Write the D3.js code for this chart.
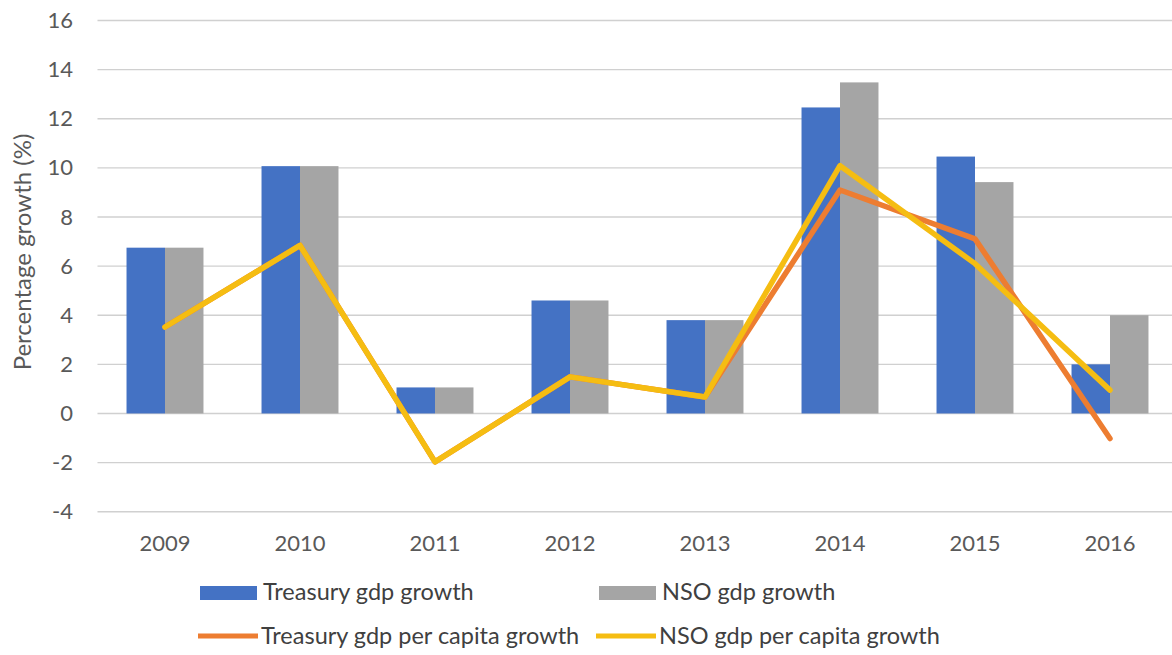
<!DOCTYPE html>
<html>
<head>
<meta charset="utf-8">
<script src="https://cdn.jsdelivr.net/npm/d3@7"></script>
<style>
html,body{margin:0;padding:0;background:#fff;overflow:hidden;}
svg{display:block;font-family:Lato,"Open Sans",sans-serif;}
</style>
</head>
<body>
<svg id="chart" width="1172" height="655"></svg>
<script>
const years = ["2009","2010","2011","2012","2013","2014","2015","2016"];
const treasuryGdp = [6.75, 10.07, 1.06, 4.6, 3.8, 12.46, 10.46, 2.0];
const nsoGdp = [6.75, 10.07, 1.06, 4.6, 3.8, 13.48, 9.42, 4.0];
const treasuryPerCapita = [3.52, 6.84, -1.97, 1.49, 0.67, 9.1, 7.11, -1.02];
const nsoPerCapita = [3.52, 6.84, -1.97, 1.49, 0.67, 10.09, 6.1, 0.95];
const yTicks = [-4, -2, 0, 2, 4, 6, 8, 10, 12, 14, 16];
const legendLabels = ["Treasury gdp growth", "NSO gdp growth", "Treasury gdp per capita growth", "NSO gdp per capita growth"];

const colors = {blue:"#4472C4", grey:"#A5A5A5", orange:"#ED7D31", yellow:"#F5BD12"};

const svg = d3.select("#chart");
const pLeft = 97.5, pRight = 1177.5, pTop = 20.5, pBottom = 511.7;

const x0 = d3.scaleBand().domain(years).range([pLeft, pRight]).paddingInner(0.43).paddingOuter(0.215);
const x1 = d3.scaleBand().domain(["t","n"]).range([0, x0.bandwidth()]);
const y = d3.scaleLinear().domain([-4, 16]).range([pBottom, pTop]);

// gridlines
svg.append("g").selectAll("line").data(yTicks).join("line")
  .attr("x1", pLeft).attr("x2", pRight)
  .attr("y1", d => y(d)).attr("y2", d => y(d))
  .attr("stroke", "#d0d0d0").attr("stroke-width", 1.4);

// y tick labels
const yAxis = d3.axisLeft(y).tickValues(yTicks).tickSize(0).tickPadding(0).tickFormat(d => String(d));
const ya = svg.append("g").attr("transform", `translate(73,0)`).call(yAxis);
ya.select(".domain").remove();
ya.selectAll("text").attr("font-size", 22).attr("fill", "#595959").attr("font-family", "Lato,'Open Sans',sans-serif");

// x labels
const xAxis = d3.axisBottom(x0).tickSize(0).tickPadding(0);
const xa = svg.append("g").attr("transform", `translate(0,535)`).call(xAxis);
xa.select(".domain").remove();
xa.selectAll("text").attr("font-size", 22).attr("fill", "#595959").attr("font-family", "Lato,'Open Sans',sans-serif");

// bars
const groups = svg.append("g").selectAll("g").data(years).join("g")
  .attr("transform", d => `translate(${x0(d)},0)`);
groups.append("rect")
  .attr("x", x1("t")).attr("width", x1.bandwidth())
  .attr("y", (d,i) => y(Math.max(0, treasuryGdp[i])))
  .attr("height", (d,i) => Math.abs(y(treasuryGdp[i]) - y(0)))
  .attr("fill", colors.blue);
groups.append("rect")
  .attr("x", x1("n")).attr("width", x1.bandwidth())
  .attr("y", (d,i) => y(Math.max(0, nsoGdp[i])))
  .attr("height", (d,i) => Math.abs(y(nsoGdp[i]) - y(0)))
  .attr("fill", colors.grey);

// lines
const cx = d => x0(d) + x0.bandwidth() / 2;
const line = d3.line().x((v,i) => cx(years[i])).y(v => y(v));
svg.append("path").datum(treasuryPerCapita).attr("d", line)
  .attr("fill", "none").attr("stroke", colors.orange).attr("stroke-width", 5.5)
  .attr("stroke-linejoin", "round").attr("stroke-linecap", "round");
svg.append("path").datum(nsoPerCapita).attr("d", line)
  .attr("fill", "none").attr("stroke", colors.yellow).attr("stroke-width", 5.5)
  .attr("stroke-linejoin", "round").attr("stroke-linecap", "round");

// y axis title
svg.append("text")
  .attr("transform", `translate(31,252) rotate(-90)`)
  .attr("text-anchor", "middle")
  .attr("font-size", 24).attr("fill", "#595959")
  .text("Percentage growth (%)");

// legend
const legend = svg.append("g");
const items = [
  {label: legendLabels[0], color: colors.blue, type: "rect", x: 200, y: 592},
  {label: legendLabels[1], color: colors.grey, type: "rect", x: 599, y: 592},
  {label: legendLabels[2], color: colors.orange, type: "line", x: 198, y: 636},
  {label: legendLabels[3], color: colors.yellow, type: "line", x: 596, y: 636}
];
items.forEach(it => {
  if (it.type === "rect") {
    legend.append("rect").attr("x", it.x).attr("y", it.y - 6).attr("width", 57).attr("height", 14).attr("fill", it.color);
  } else {
    legend.append("line").attr("x1", it.x).attr("x2", it.x + 60).attr("y1", it.y).attr("y2", it.y)
      .attr("stroke", it.color).attr("stroke-width", 5);
  }
  legend.append("text").attr("x", it.x + 63).attr("y", it.y).attr("dy", "0.35em")
    .attr("font-size", 23.5).attr("fill", "#404040").text(it.label);
});
</script>
</body>
</html>
